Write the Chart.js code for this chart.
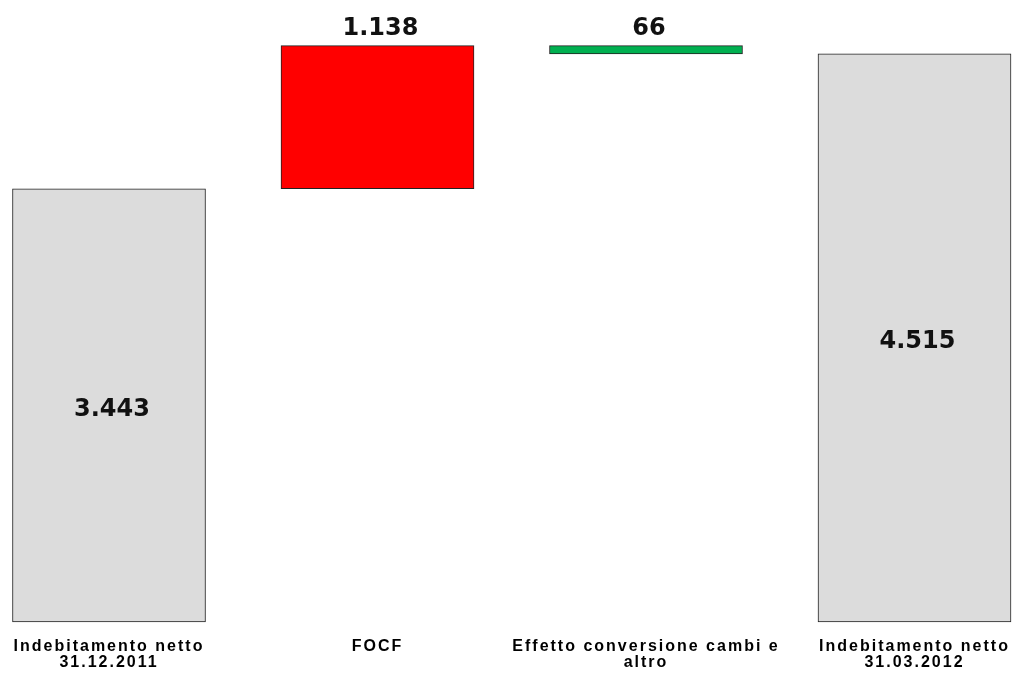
<!DOCTYPE html>
<html>
<head>
<meta charset="utf-8">
<script src="https://cdn.jsdelivr.net/npm/chart.js@4/dist/chart.umd.min.js"></script>
<style>
  html, body { margin: 0; padding: 0; background: #ffffff; }
  #wrap { width: 1018px; height: 675px; position: relative; }
</style>
</head>
<body>
<div id="wrap"><canvas id="c"></canvas></div>
<script>
// Bridge of net debt: opening balance, movements, closing balance
const categories = [
  ['Indebitamento netto', '31.12.2011'],
  ['FOCF'],
  ['Effetto conversione cambi e', 'altro'],
  ['Indebitamento netto', '31.03.2012']
];
const openingDebt = 3443;
const movements = [1138, -66];   // FOCF, Effetto conversione cambi e altro
const closingDebt = 4515;
const valueLabels = ['3.443', '1.138', '66', '4.515'];

const fills = ['#dcdcdc', '#ff0000', '#00b050', '#dcdcdc'];

// floating ranges for the waterfall
const ranges = [];
ranges.push([0, openingDebt]);
let running = openingDebt;
movements.forEach(m => { ranges.push([running, running + m]); running += m; });
ranges.push([0, closingDebt]);

// wider tracking for the category captions
const spacingPlugin = {
  id: 'tickSpacing',
  beforeDraw(chart) { chart.ctx.letterSpacing = '2px'; },
  afterDraw(chart) { chart.ctx.letterSpacing = '0px'; }
};

const labelPlugin = {
  id: 'valueLabels',
  afterDatasetsDraw(chart) {
    const ctx = chart.ctx;
    const meta = chart.getDatasetMeta(0);
    ctx.save();
    ctx.letterSpacing = '0px';
    ctx.font = 'bold 24px "DejaVu Sans"';
    ctx.fillStyle = '#111111';
    ctx.textAlign = 'center';
    ctx.textBaseline = 'middle';
    meta.data.forEach((bar, i) => {
      const top = Math.min(bar.y, bar.base);
      const bottom = Math.max(bar.y, bar.base);
      let y;
      if (i === 0 || i === ranges.length - 1) {
        y = (top + bottom) / 2 + 4;
      } else {
        y = top - 17;
      }
      ctx.fillText(valueLabels[i], bar.x + 3, y);
    });
    ctx.restore();
  }
};

new Chart(document.getElementById('c'), {
  type: 'bar',
  data: {
    labels: categories,
    datasets: [{
      data: ranges,
      backgroundColor: fills,
      borderColor: '#222222',
      borderWidth: 1,
      borderSkipped: false,
      barThickness: 193,
      clip: false
    }]
  },
  options: {
    responsive: true,
    maintainAspectRatio: false,
    animation: false,
    layout: { padding: { top: 18, left: 109, right: 103.5, bottom: 0 } },
    plugins: { legend: { display: false }, tooltip: { enabled: false } },
    scales: {
      x: {
        offset: false,
        afterFit(scale) { scale.height = 53; },
        grid: { display: false, drawTicks: false },
        border: { display: false },
        ticks: {
          color: '#000000',
          font: { family: '"Liberation Sans"', weight: 'bold', size: 16, lineHeight: 1.0 },
          padding: 16.5,
          maxRotation: 0,
          autoSkip: false
        }
      },
      y: {
        display: false,
        min: 0,
        max: 4800
      }
    }
  },
  plugins: [spacingPlugin, labelPlugin]
});
</script>
</body>
</html>
